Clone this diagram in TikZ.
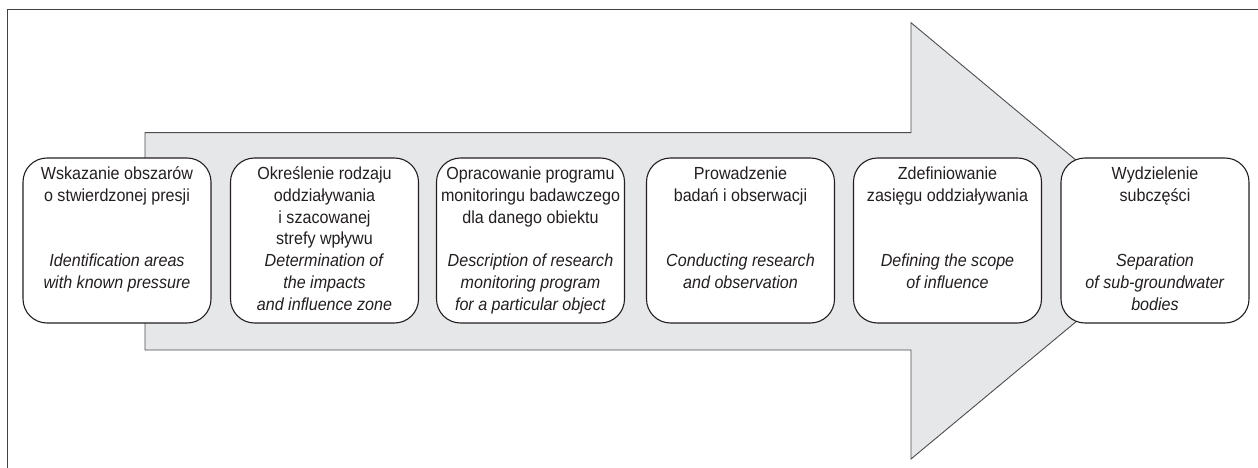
\documentclass[tikz,border=0pt]{standalone}
\usepackage{fontspec}
\setmainfont[FakeStretch=0.92]{Liberation Sans}
\definecolor{arrowfill}{HTML}{E6E7E8}
\definecolor{linegray}{HTML}{4D4D4F}
\definecolor{ink}{HTML}{231F20}
\newcommand{\rl}[1]{\strut#1}
\newcommand{\il}[1]{\strut\textit{#1}}
\begin{document}
\begin{tikzpicture}[x=1pt,y=-1pt,
  stepbox/.style={draw=ink, line width=1.1pt, fill=white, rounded corners=24pt,
    minimum width=188pt, minimum height=165pt, inner sep=0pt, align=center,
    text=ink, font=\fontsize{17.5}{21.8}\selectfont},
  frameline/.style={draw=ink!85, line width=1.3pt},
  bigarrow/.style={draw=linegray, line width=0.9pt, fill=arrowfill}]
\useasboundingbox (0,0) rectangle (1258,468);
\coordinate (fbl) at (7.3,468);
\coordinate (ftl) at (7.3,9.5);
\coordinate (ftr) at (1258,9.5);
\draw[frameline] (fbl) -- (ftl) -- (ftr);
\draw[bigarrow] (145,132.7) -- (911,132.7) -- (911,22.7) -- (1173,241) -- (911,459) -- (911,350) -- (145,350) -- cycle;
\node[stepbox] (b1) at (117,240.5) {\rl{Wskazanie obszarów}\\ \rl{o stwierdzonej presji}\\ \rl{}\\ \rl{}\\ \il{Identification areas}\\ \il{with known pressure}\\ \rl{}};
\node[stepbox] (b2) at (324.5,240.5) {\rl{Określenie rodzaju}\\ \rl{oddziaływania}\\ \rl{i szacowanej}\\ \rl{strefy wpływu}\\ \il{Determination of}\\ \il{the impacts}\\ \il{and influence zone}};
\node[stepbox] (b3) at (530.5,240.5) {\rl{Opracowanie programu}\\ \rl{monitoringu badawczego}\\ \rl{dla danego obiektu}\\ \rl{}\\ \il{Description of research}\\ \il{monitoring program}\\ \il{for a particular object}};
\node[stepbox] (b4) at (740.5,240.5) {\rl{Prowadzenie}\\ \rl{badań i obserwacji}\\ \rl{}\\ \rl{}\\ \il{Conducting research}\\ \il{and observation}\\ \rl{}};
\node[stepbox] (b5) at (947.5,240.5) {\rl{Zdefiniowanie}\\ \rl{zasięgu oddziaływania}\\ \rl{}\\ \rl{}\\ \il{Defining the scope}\\ \il{of influence}\\ \rl{}};
\node[stepbox] (b6) at (1155,240.5) {\rl{Wydzielenie}\\ \rl{subczęści}\\ \rl{}\\ \rl{}\\ \il{Separation}\\ \il{of sub-groundwater}\\ \il{bodies}};
\end{tikzpicture}
\end{document}
